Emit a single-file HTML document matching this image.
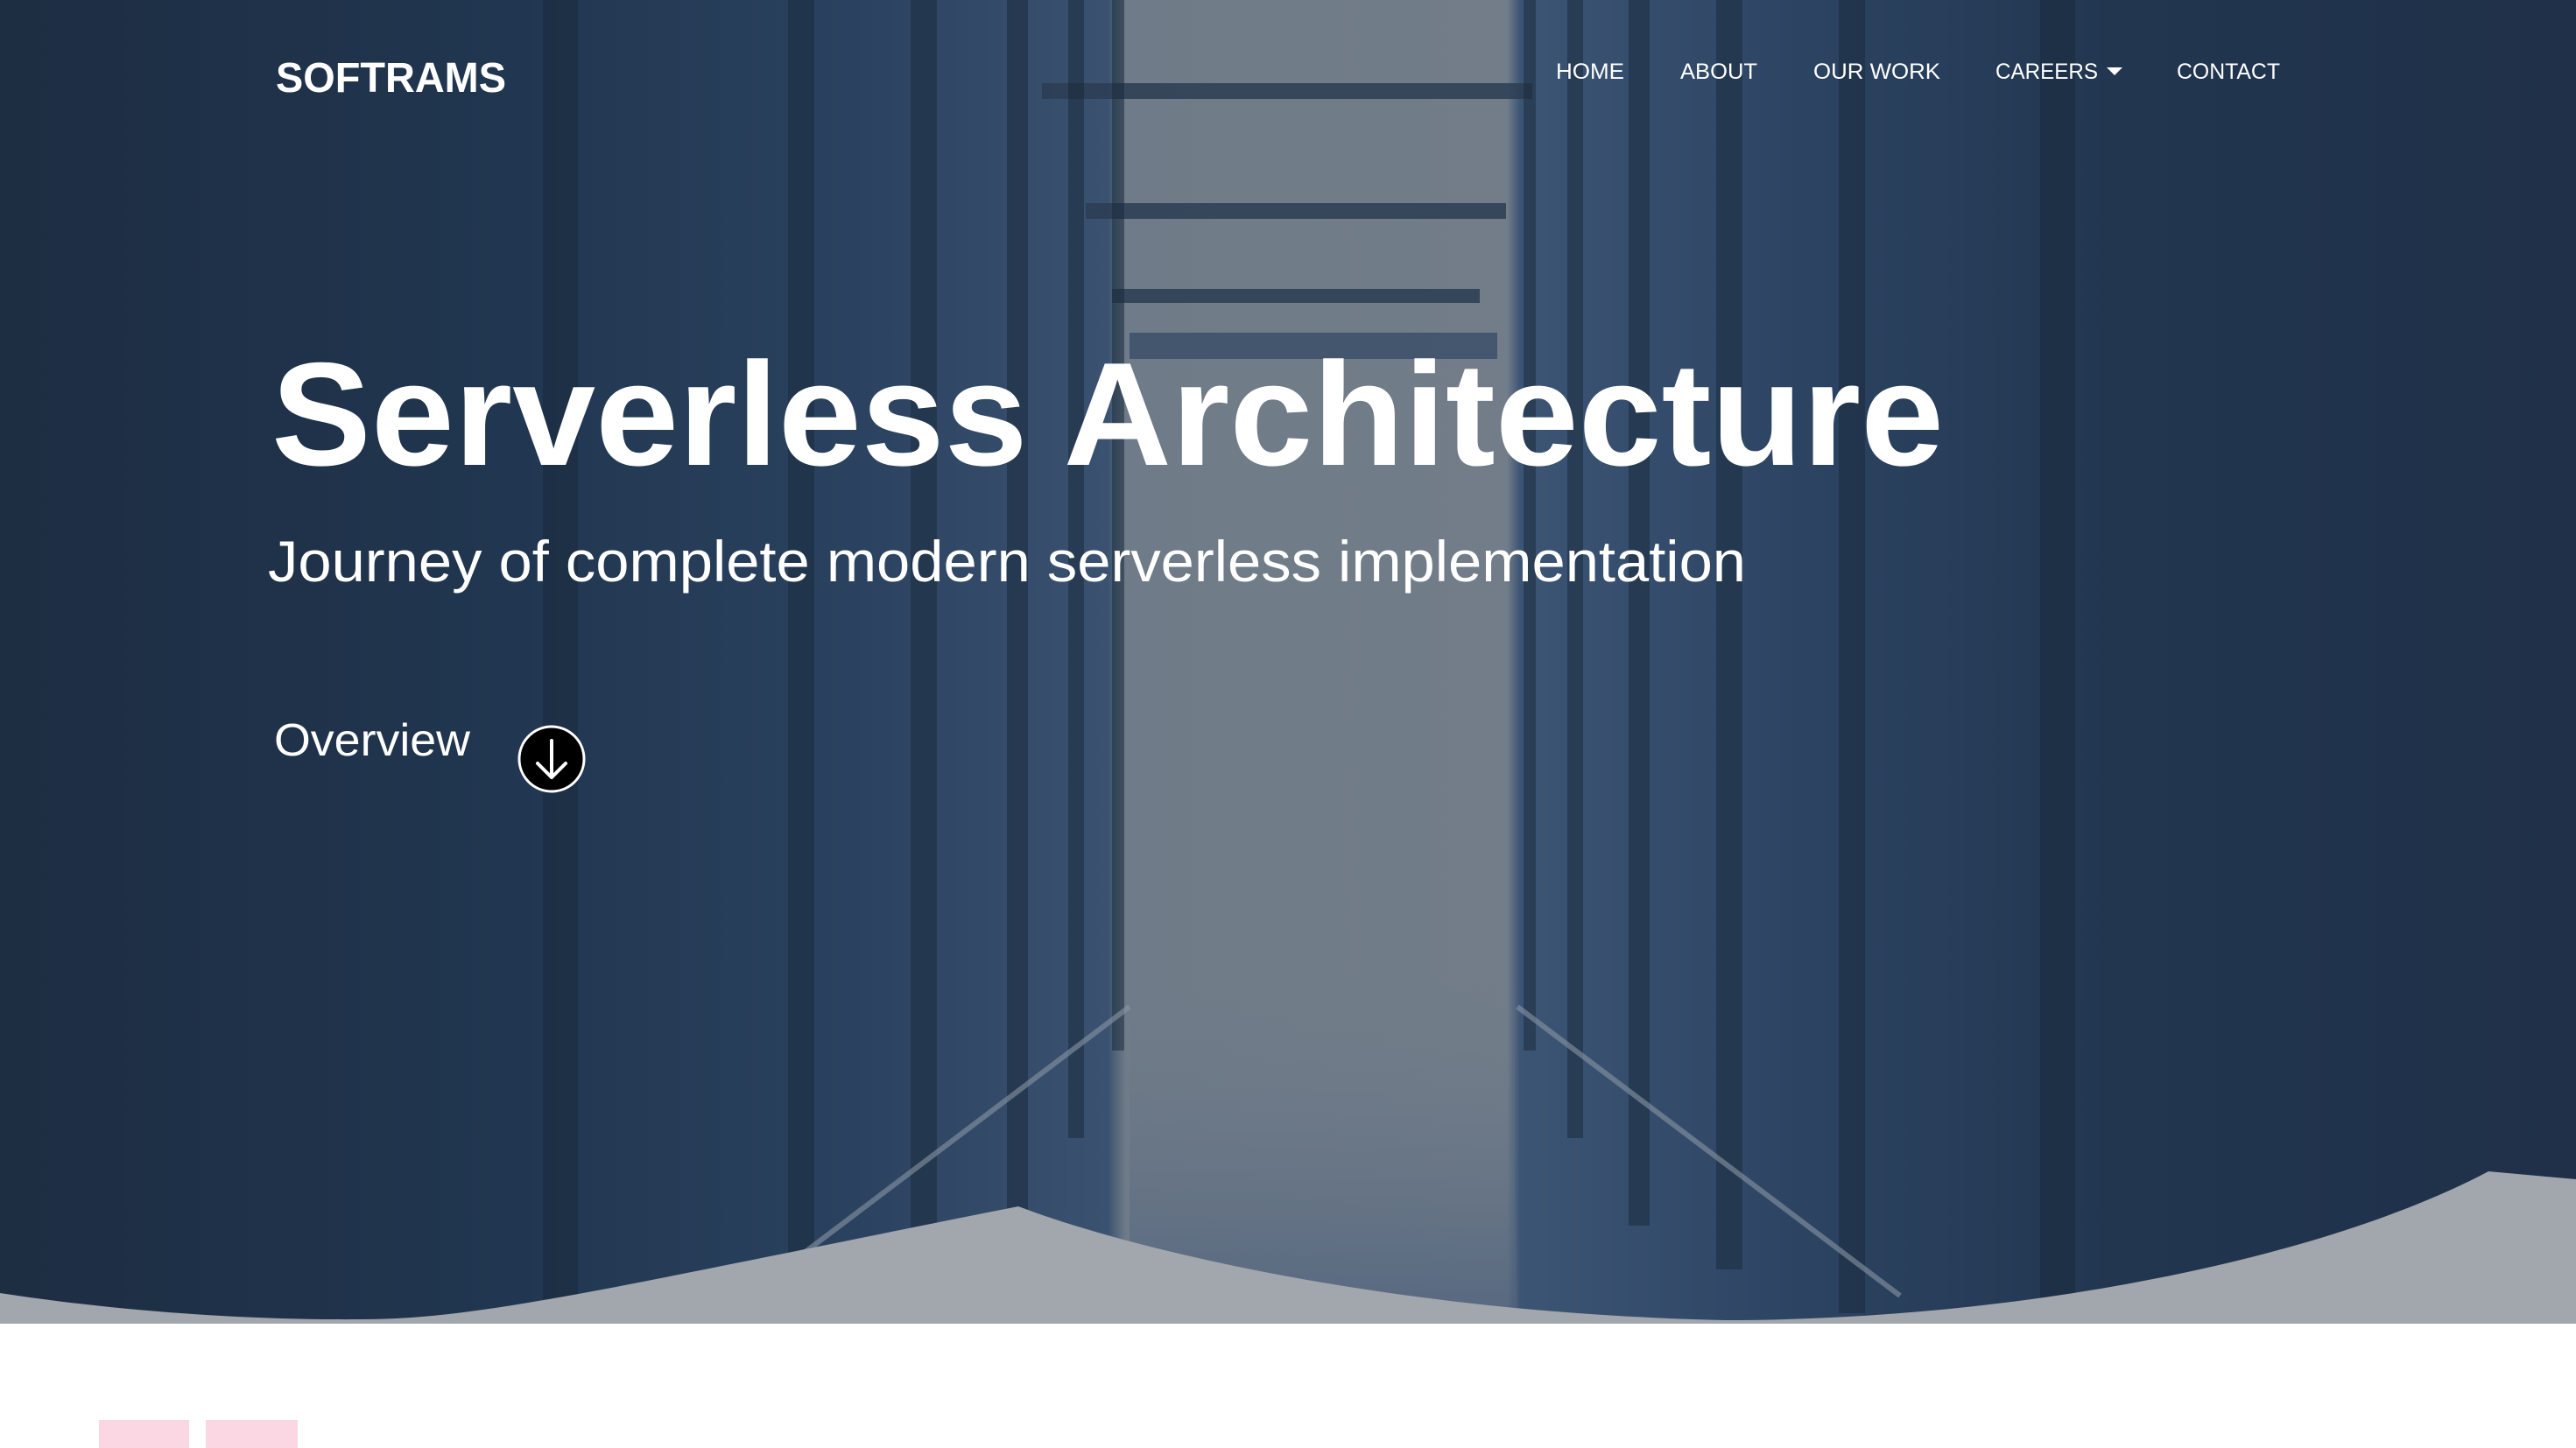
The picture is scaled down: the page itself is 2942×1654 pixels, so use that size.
<!DOCTYPE html>
<html><head><meta charset="utf-8"><style>
html,body{margin:0;padding:0;width:2942px;height:1654px;overflow:hidden;background:#fff}
svg{display:block}
text{font-family:"Liberation Sans",sans-serif;fill:#fff}
</style></head><body>
<svg width="2942" height="1654" viewBox="0 0 2942 1654" xmlns="http://www.w3.org/2000/svg">
<defs>
<linearGradient id="bg" x1="0" y1="0" x2="1" y2="0">
<stop offset="0" stop-color="#1d2d42"/>
<stop offset="0.2" stop-color="#213650"/>
<stop offset="0.33" stop-color="#2a425f"/>
<stop offset="0.43" stop-color="#3a5270"/>
<stop offset="0.437" stop-color="#6f7b88"/>
<stop offset="0.585" stop-color="#727d89"/>
<stop offset="0.59" stop-color="#3d5574"/>
<stop offset="0.7" stop-color="#2c4462"/>
<stop offset="0.82" stop-color="#223650"/>
<stop offset="1" stop-color="#1f3048"/>
</linearGradient>
<linearGradient id="floor" x1="0" y1="0" x2="0" y2="1">
<stop offset="0" stop-color="#6e7b89" stop-opacity="0"/>
<stop offset="1" stop-color="#4b5f7c" stop-opacity="0.7"/>
</linearGradient>
</defs>
<rect x="0" y="0" width="2942" height="1512" fill="url(#bg)"/>
<g fill="#2b3d54" opacity="0.85">
<rect x="1190" y="95" width="560" height="18"/>
<rect x="1240" y="232" width="480" height="18"/>
<rect x="1270" y="330" width="420" height="16"/>
<rect x="1290" y="380" width="420" height="30" fill="#3c506a"/>
</g>
<rect x="1290" y="1110" width="440" height="400" fill="url(#floor)"/>
<g fill="#18273a" opacity="0.5">
<rect x="1040" y="0" width="30" height="1450"/>
<rect x="1150" y="0" width="24" height="1400"/>
<rect x="1220" y="0" width="18" height="1300"/>
<rect x="1270" y="0" width="14" height="1200"/>
<rect x="1740" y="0" width="14" height="1200"/>
<rect x="1790" y="0" width="18" height="1300"/>
<rect x="1860" y="0" width="24" height="1400"/>
<rect x="1960" y="0" width="30" height="1450"/>
<rect x="620" y="0" width="40" height="1500"/>
<rect x="900" y="0" width="30" height="1500"/>
<rect x="2100" y="0" width="30" height="1500"/>
<rect x="2330" y="0" width="40" height="1500"/>
</g>
<g stroke="#8a96a4" stroke-width="6" opacity="0.6">
<line x1="1290" y1="1150" x2="880" y2="1460"/>
<line x1="1733" y1="1150" x2="2170" y2="1480"/>
</g>
<path d="M0 1477 C150 1500 300 1508 413 1507 C550 1507 700 1470 1163 1378 C1300 1430 1600 1500 1970 1508 C2300 1508 2650 1440 2842 1338 L2942 1347 L2942 1512 L0 1512 Z" fill="#a2a6ad"/>
<text x="315" y="105" font-size="48" font-weight="bold" textLength="263" lengthAdjust="spacingAndGlyphs">SOFTRAMS</text>
<g font-size="25">
<text x="1777" y="90" textLength="78" lengthAdjust="spacingAndGlyphs">HOME</text>
<text x="1919" y="90" textLength="88" lengthAdjust="spacingAndGlyphs">ABOUT</text>
<text x="2071" y="90" textLength="145" lengthAdjust="spacingAndGlyphs">OUR WORK</text>
<text x="2279" y="90" textLength="117" lengthAdjust="spacingAndGlyphs">CAREERS</text>
<text x="2486" y="90" textLength="118" lengthAdjust="spacingAndGlyphs">CONTACT</text>
</g>
<path d="M2406 77 L2424 77 L2415 86 Z" fill="#fff"/>
<text x="310" y="531" font-size="168" font-weight="bold" textLength="1910" lengthAdjust="spacingAndGlyphs">Serverless Architecture</text>
<text x="306" y="664" font-size="66" textLength="1688" lengthAdjust="spacingAndGlyphs">Journey of complete modern serverless implementation</text>
<text x="313" y="863" font-size="52" textLength="224" lengthAdjust="spacingAndGlyphs">Overview</text>
<circle cx="630" cy="867" r="37" fill="#000" stroke="#fff" stroke-width="3"/>
<path d="M630 846 L630 888 M614 872 L630 888 L646 872" stroke="#fff" stroke-width="4" fill="none" stroke-linecap="round" stroke-linejoin="round"/>
<rect x="113" y="1622" width="103" height="32" fill="#fad7e3"/>
<rect x="235" y="1622" width="105" height="32" fill="#fad7e3"/>
</svg>
</body></html>
